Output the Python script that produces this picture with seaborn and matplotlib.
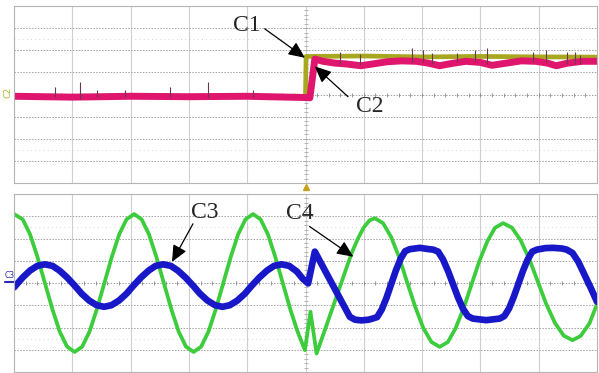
import numpy as np
import pandas as pd
import seaborn as sns
import matplotlib.pyplot as plt

# ---- top panel (divisions) ----
c1_x = [-5.0, 0.0, 0.01, 1.0, 2.0, 3.0, 4.0, 5.0]
c1_y = [-0.08, -0.08, 1.72, 1.74, 1.70, 1.72, 1.70, 1.69]

c2_x = [-5.0, -4.0, -3.0, -2.0, -1.0, 0.05, 0.075, 0.16, 0.3, 0.5, 0.7, 0.95, 1.15, 1.4,
        1.65, 1.9, 2.1, 2.3, 2.5, 2.75, 3.0, 3.2, 3.45, 3.7, 3.95, 4.15, 4.3, 4.5, 4.75, 5.0]
c2_y = [-0.08, -0.12, -0.08, -0.10, -0.08, -0.14, -0.15, 1.60, 1.50, 1.42, 1.38, 1.30, 1.38, 1.48,
        1.52, 1.50, 1.42, 1.30, 1.40, 1.50, 1.45, 1.32, 1.42, 1.52, 1.50, 1.42, 1.30, 1.42, 1.50, 1.50]

spike_x = [-4.3, -3.87, -3.58, -3.1, -2.33, -1.68, -0.9, 0.59, 0.93, 1.82, 2.01, 2.17, 2.6,
           2.90, 3.11, 3.90, 4.12, 4.48, 4.62, 4.70]
spike_lo = [-0.1, -0.2, -0.1, -0.1, -0.1, -0.15, -0.1, 1.4, 1.35, 1.45, 1.45, 1.4, 1.45,
            1.45, 1.4, 1.45, 1.45, 1.4, 1.4, 1.4]
spike_hi = [0.35, 0.57, 0.20, 0.22, 0.36, 0.57, 0.2, 1.90, 1.85, 2.11, 2.02, 1.89, 1.88,
            2.02, 2.11, 1.93, 2.02, 1.93, 1.93, 1.80]

# ---- bottom panel (divisions) ----
c4_x = [-5.0, -4.85, -4.725, -4.60, -4.47, -4.34, -4.215, -4.09, -3.96, -3.83, -3.705, -3.58,
        -3.45, -3.32, -3.195, -3.07, -2.94, -2.81, -2.685, -2.56, -2.43, -2.30, -2.175, -2.05,
        -1.92, -1.79, -1.665, -1.54, -1.41, -1.28, -1.155, -1.03, -0.90, -0.77, -0.645, -0.52,
        -0.39, -0.26, -0.135, -0.01, 0.085, 0.19, 0.30, 0.40, 0.50, 0.60, 0.70, 0.80, 0.90,
        1.00, 1.10, 1.19, 1.33, 1.47, 1.61, 1.745, 1.885, 2.02, 2.16, 2.30, 2.44, 2.57, 2.71,
        2.845, 2.98, 3.12, 3.25, 3.39, 3.54, 3.69, 3.84, 3.985, 4.13, 4.28, 4.43, 4.58, 4.72,
        4.87, 5.0]
c4_y = [3.1, 2.86, 2.19, 1.19, 0.0, -1.19, -2.19, -2.86, -3.1, -2.86, -2.19, -1.19,
        0.0, 1.19, 2.19, 2.86, 3.1, 2.86, 2.19, 1.19, 0.0, -1.19, -2.19, -2.86,
        -3.1, -2.86, -2.19, -1.19, 0.0, 1.19, 2.19, 2.86, 3.1, 2.86, 2.19, 1.19,
        0.0, -1.19, -2.19, -3.02, -1.29, -3.17, -2.35, -1.6, -0.85, -0.1, 0.66, 1.4, 2.0,
        2.5, 2.82, 2.91, 2.69, 2.06, 1.13, 0.02, -1.09, -2.02, -2.65, -2.87, -2.66, -2.06, -1.15,
        -0.09, 0.97, 1.88, 2.48, 2.69, 2.49, 1.92, 1.07, 0.06, -0.95, -1.80, -2.37, -2.57, -2.38,
        -1.82, -0.95]

c3_x = [-5.0, -4.85, -4.725, -4.60, -4.47, -4.34, -4.22, -4.09, -3.96, -3.84, -3.71, -3.58,
        -3.455, -3.33, -3.20, -3.07, -2.95, -2.82, -2.69, -2.57, -2.44, -2.31, -2.19, -2.06,
        -1.93, -1.81, -1.68, -1.55, -1.425, -1.30, -1.17, -1.04, -0.92, -0.79, -0.66, -0.54,
        -0.41, -0.28, -0.15, -0.05, 0.045, 0.16, 0.76, 0.85, 0.96, 1.08, 1.15, 1.23, 1.31,
        1.39, 1.47, 1.55, 1.63, 1.71, 1.79, 1.96, 2.12, 2.19, 2.275, 2.36, 2.445, 2.53, 2.615,
        2.70, 2.785, 2.87, 3.10, 3.33, 3.41, 3.49, 3.57, 3.65, 3.73, 3.81, 3.89, 3.97, 4.12,
        4.25, 4.40, 4.48, 4.58, 4.68, 4.78, 4.88, 5.0]
c3_y = [-0.2, 0.25, 0.56, 0.77, 0.84, 0.77, 0.56, 0.25, -0.115, -0.48, -0.79, -1.00,
        -1.07, -1.00, -0.79, -0.48, -0.115, 0.25, 0.56, 0.77, 0.84, 0.77, 0.56, 0.25,
        -0.115, -0.48, -0.79, -1.00, -1.07, -1.00, -0.79, -0.48, -0.115, 0.25, 0.56, 0.77,
        0.84, 0.77, 0.52, 0.20, -0.02, 1.41, -1.52, -1.65, -1.68, -1.65, -1.60, -1.53, -1.18,
        -0.66, -0.05, 0.56, 1.08, 1.43, 1.52, 1.58, 1.52, 1.50, 1.41, 1.05, 0.54, -0.05, -0.64,
        -1.15, -1.49, -1.60, -1.67, -1.60, -1.49, -1.15, -0.64, -0.05, 0.54, 1.05, 1.41, 1.50, 1.57,
        1.58, 1.55, 1.50, 1.35, 0.95, 0.40, -0.15, -0.84]

top = pd.DataFrame({"x": c2_x, "y": c2_y})
bot3 = pd.DataFrame({"x": c3_x, "y": c3_y})
bot4 = pd.DataFrame({"x": c4_x, "y": c4_y})

sns.set_style("white")
plt.rcParams["font.family"] = ["Liberation Serif", "DejaVu Serif"]

fig = plt.figure(figsize=(5.99, 3.73), dpi=100)
ax1 = fig.add_axes([14 / 599, 1 - 183 / 373, 583 / 599, 177 / 373])
ax2 = fig.add_axes([14 / 599, 1 - 372 / 373, 583 / 599, 178 / 373])


def scope_grid(ax):
    ax.set_xlim(-5, 5)
    ax.set_ylim(-4, 4)
    ax.set_xticks([])
    ax.set_yticks([])
    for v in range(-4, 5):
        ax.axvline(v, color="#cfcfcf", lw=0.8, zorder=0)
    for h in range(-3, 4):
        ax.axhline(h, color="#a0a0a0", lw=0.7, ls=(0, (1.5, 1.5)), zorder=0)
    for h in (-2.5, 2.5):
        ax.axhline(h, color="#c8c8c8", lw=0.6, ls=(0, (1, 4)), zorder=0)
    t = np.arange(-5, 5.01, 0.2)
    ax.plot(t, np.zeros_like(t), ls="none", marker="|", ms=3, mew=0.6, color="#888888", zorder=0)
    t = np.arange(-4, 4.01, 0.2)
    ax.plot(np.zeros_like(t), t, ls="none", marker="_", ms=3, mew=0.6, color="#aaaaaa", zorder=0)
    for s in ax.spines.values():
        s.set_color("#b5b5b5")
        s.set_linewidth(0.8)


scope_grid(ax1)
scope_grid(ax2)

# top: C1 / C2
sns.lineplot(x=c1_x, y=c1_y, ax=ax1, color="#a8a820", lw=3.4, estimator=None, sort=False)
sns.lineplot(data=top, x="x", y="y", ax=ax1, color="#e0166e", lw=5, estimator=None, sort=False)
ax1.vlines(spike_x, spike_lo, spike_hi, color="#6a3a4a", lw=0.8, zorder=5)

# bottom: C3 / C4
sns.lineplot(data=bot4, x="x", y="y", ax=ax2, color="#3ccc3c", lw=2.7, estimator=None, sort=False)
sns.lineplot(data=bot3, x="x", y="y", ax=ax2, color="#1818c8", lw=4.8, estimator=None, sort=False)
for ax in (ax1, ax2):
    ax.set_xlabel("")
    ax.set_ylabel("")

arrow = dict(arrowstyle="-|>,head_length=1.0,head_width=0.45", color="black", lw=0.9,
             shrinkA=0, shrinkB=0, mutation_scale=10)
ax1.text(-1.0, 3.1, "C1", fontsize=17, ha="center", va="center")
ax1.annotate("", xy=(-0.01, 1.66), xytext=(-0.70, 2.97), arrowprops=arrow)
ax1.text(1.10, -0.53, "C2", fontsize=17, ha="center", va="center")
ax1.annotate("", xy=(0.16, 1.27), xytext=(0.73, -0.10), arrowprops=arrow)
ax2.text(-1.72, 3.18, "C3", fontsize=17, ha="center", va="center")
ax2.annotate("", xy=(-2.29, 0.95), xytext=(-1.93, 2.66), arrowprops=arrow)
ax2.text(-0.09, 3.11, "C4", fontsize=17, ha="center", va="center")
ax2.annotate("", xy=(0.82, 1.18), xytext=(0.07, 2.54), arrowprops=arrow)

# channel markers and trigger
fig.text(8 / 599, 1 - 92 / 373, "C2", fontsize=6, color="#b0b030", rotation=90,
         ha="center", va="center", family="DejaVu Sans")
fig.text(10 / 599, 1 - 275 / 373, "C3", fontsize=5.5, color="#2a2ab0",
         ha="center", va="center", family="DejaVu Sans")
ax2.plot([-5.16, -5.0], [0.05, 0.05], color="#2a2ab0", lw=1.5, clip_on=False)
ax1.plot([0.0], [-4.18], marker="^", ms=4, color="#c8a020", clip_on=False)

fig.savefig("out.png", dpi=100)
